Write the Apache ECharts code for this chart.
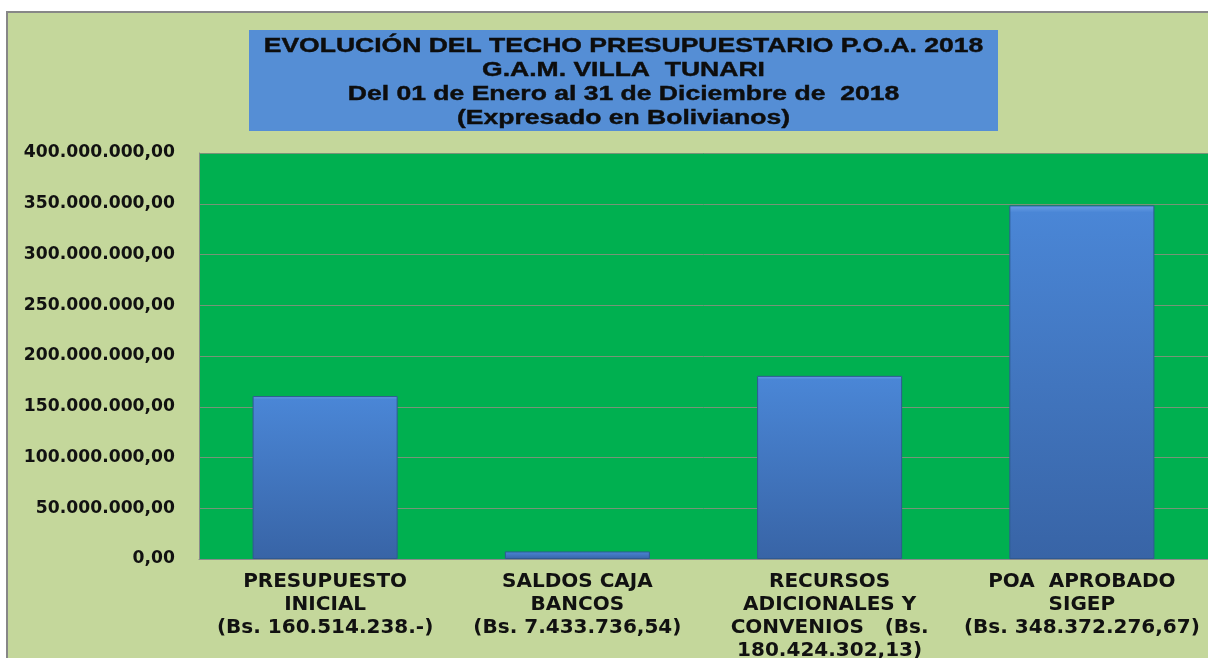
<!DOCTYPE html>
<html>
<head>
<meta charset="utf-8">
<script src="https://cdn.jsdelivr.net/npm/echarts@6/dist/echarts.min.js"></script>
<style>
  html, body { margin: 0; padding: 0; background: #fff; }
  #chart { width: 1208px; height: 658px; }
</style>
</head>
<body>
<div id="chart"></div>
<script>
// datos del gráfico
const categories = [
  'PRESUPUESTO\nINICIAL\n(Bs. 160.514.238.-)',
  'SALDOS CAJA\nBANCOS\n(Bs. 7.433.736,54)',
  'RECURSOS\nADICIONALES Y\nCONVENIOS   (Bs.\n180.424.302,13)',
  'POA  APROBADO\nSIGEP\n(Bs. 348.372.276,67)'
];
const montos = [160514238, 7433736.54, 180424302.13, 348372276.67];
const titleLines = [
  'EVOLUCIÓN DEL TECHO PRESUPUESTARIO P.O.A. 2018',
  'G.A.M. VILLA  TUNARI',
  'Del 01 de Enero al 31 de Diciembre de  2018',
  '(Expresado en Bolivianos)'
];
const yMin = 0, yMax = 400000000, yStep = 50000000;

// 400000000 -> "400.000.000,00"
function fmtBs(v) {
  const parts = Number(v).toFixed(2).split('.');
  return parts[0].replace(/\B(?=(\d{3})+(?!\d))/g, '.') + ',' + parts[1];
}

const chart = echarts.init(document.getElementById('chart'));

chart.setOption({
  backgroundColor: '#ffffff',
  animation: false,
  graphic: [
    {
      type: 'rect', z: -5, silent: true,
      shape: { x: 7, y: 12, width: 1215, height: 660 },
      style: { fill: '#c4d79b', stroke: '#878787', lineWidth: 2 }
    },
    {
      type: 'rect', z: 10, silent: true,
      shape: { x: 249, y: 30, width: 749, height: 101 },
      style: { fill: '#558ed5' }
    },
    {
      type: 'text', z: 11, silent: true,
      x: 623.5, y: 83, scaleX: 1.36,
      style: {
        text: titleLines.join('\n'),
        font: 'bold 19.5px "Liberation Sans", Arial, sans-serif',
        lineHeight: 24,
        fill: '#0d0d0d',
        stroke: '#0d0d0d',
        lineWidth: 0.4,
        align: 'center',
        verticalAlign: 'middle'
      }
    }
  ],
  grid: {
    left: 199, right: 0, top: 153, bottom: 99,
    outerBoundsMode: 'none',
    show: true, backgroundColor: '#00b050', borderWidth: 0
  },
  xAxis: {
    type: 'category',
    data: categories,
    axisLine: { show: true, lineStyle: { color: '#8a8a8a', width: 1 } },
    axisTick: { show: false },
    axisLabel: {
      interval: 0,
      margin: 11,
      color: '#111111',
      fontFamily: 'DejaVu Sans, Verdana, sans-serif',
      fontWeight: 'bold',
      fontSize: 20,
      lineHeight: 23
    }
  },
  yAxis: {
    type: 'value',
    min: yMin, max: yMax, interval: yStep,
    axisLine: { show: true, lineStyle: { color: '#8a8a8a', width: 1 } },
    axisTick: { show: false },
    splitLine: { show: true, lineStyle: { color: '#789478', width: 1 } },
    axisLabel: {
      margin: 24,
      color: '#111111',
      fontFamily: 'DejaVu Sans, Verdana, sans-serif',
      fontWeight: 'bold',
      fontSize: 17.2,
      formatter: fmtBs
    }
  },
  series: [{
    type: 'bar',
    data: montos,
    barWidth: '57.5%',
    itemStyle: {
      color: new echarts.graphic.LinearGradient(0, 0, 0, 1, [
        { offset: 0, color: '#6a9fe6' },
        { offset: 0.02, color: '#4a86d6' },
        { offset: 1, color: '#3864a6' }
      ]),
      borderColor: '#2f5a92',
      borderWidth: 1
    }
  }]
});
</script>
</body>
</html>
